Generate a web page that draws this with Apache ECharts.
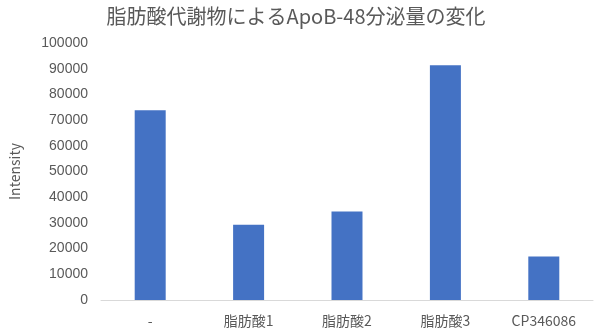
<!DOCTYPE html>
<html>
<head>
<meta charset="utf-8">
<script src="https://cdn.jsdelivr.net/npm/echarts@6/dist/echarts.min.js"></script>
<style>
  html, body { margin: 0; padding: 0; background: #fff; }
  #chart { width: 595px; height: 336px; }
</style>
</head>
<body>
<div id="chart"></div>
<script>
// ApoB-48 secretion per treatment
const categories = ['-', '脂肪酸1', '脂肪酸2', '脂肪酸3', 'CP346086'];
const intensity = [73800, 29300, 34400, 91300, 16900];
const yTicks = { min: 0, max: 100000, interval: 10000 };

const FONT = '"Noto Sans CJK JP", "Noto Sans", sans-serif';
const TEXT = '#595959';

const chart = echarts.init(document.getElementById('chart'), null, { renderer: 'canvas' });
chart.setOption({
  animation: false,
  backgroundColor: '#ffffff',
  title: {
    text: '脂肪酸代謝物によるApoB-48分泌量の変化',
    left: 291,
    textAlign: 'center',
    top: 1,
    textStyle: { fontFamily: FONT, fontSize: 20, fontWeight: 'normal', color: TEXT }
  },
  grid: { left: 101, right: 2, top: 43, bottom: 36, containLabel: false },
  xAxis: {
    type: 'category',
    data: categories,
    axisLine: { show: true, lineStyle: { color: '#d9d9d9', width: 1 } },
    axisTick: { show: false },
    axisLabel: { fontFamily: FONT, fontSize: 14, color: TEXT, margin: 14, interval: 0 },
    splitLine: { show: false }
  },
  yAxis: {
    type: 'value',
    min: yTicks.min,
    max: yTicks.max,
    interval: yTicks.interval,
    name: 'Intensity',
    nameLocation: 'middle',
    nameGap: 79,
    nameRotate: 90,
    nameTextStyle: { fontFamily: FONT, fontSize: 14, color: TEXT },
    axisLine: { show: false },
    axisTick: { show: false },
    splitLine: { show: false },
    axisLabel: {
      fontFamily: '"Liberation Sans", Arial, sans-serif',
      fontSize: 14,
      color: TEXT,
      margin: 13,
      formatter: (v) => String(v)
    }
  },
  series: [{
    type: 'bar',
    data: intensity,
    barWidth: '31.5%',
    itemStyle: { color: '#4472C4' }
  }]
});
</script>
</body>
</html>
